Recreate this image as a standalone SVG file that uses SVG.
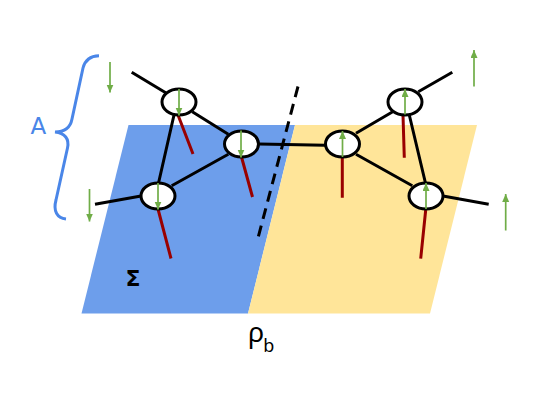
<svg xmlns="http://www.w3.org/2000/svg" width="554" height="402" viewBox="0 0 554 402">
<style>
.e{stroke:#000;stroke-width:3;fill:none;stroke-linecap:butt}
.r{stroke:#990000;stroke-width:3;fill:none}
.g{stroke:#70ad47;stroke-width:1.700;fill:none;marker-end:url(#ah)}
.n{fill:#fff;stroke:#000;stroke-width:3}
text{font-family:"DejaVu Sans",sans-serif}
</style>
<defs>
<marker id="ah" markerUnits="userSpaceOnUse" markerWidth="8" markerHeight="8" refX="8" refY="3.500" orient="auto"><path d="M0 0L8 3.500L0 7Z" fill="#70ad47"/></marker>
</defs>
<g id="plane">
<polygon points="128.500,125 295,125 248,313.500 81.500,313.500" fill="#6d9eeb"/>
<polygon points="295,125 477,125 430,313.500 248,313.500" fill="#ffe599"/>
</g>
<g id="connectors">
<path class="e" d="M131.700 72.300L165.700 92.700M174 115L158.300 184M192.300 111.700L228.300 134.300M228.300 154.300L171.700 185.700M95 204.300L141 196M259 144L325 145.300M356 133.300L392.700 111.700M356 154.300L412.300 185.700M409.300 115L425.700 184M418.300 91.700L452.300 72.300M443 196L488.700 204.300"/>
<path d="M298 86.500L258 238" stroke="#000" stroke-width="3" stroke-dasharray="11 7" fill="none"/>
<path class="r" d="M178 115L193 154M241.500 157L252.500 197M158 209L171 258.500M342.300 157.500V197.700M403 115L404.300 157.700M425.700 210L420.700 258.700"/>
<path class="g" d="M110 62V92.500"/>
<path class="g" d="M89.500 189V221.500"/>
<path class="g" d="M474 86.500V50"/>
<path class="g" d="M505.700 230.500V194"/>
<path d="M99 55.700C90 56 85 60 83 68L72 119C70.500 127 65 132 55 132C65 133 69.500 139 67.500 148L56 200C53 211 57 218 66 219" fill="none" stroke="#4a86e8" stroke-width="3"/>
</g>
<g id="n1"><ellipse class="n" cx="179" cy="102" rx="17" ry="13"/></g>
<g id="n2"><ellipse class="n" cx="241.500" cy="144" rx="17" ry="13"/></g>
<g id="n3"><ellipse class="n" cx="158" cy="196" rx="17" ry="13"/></g>
<g id="n4"><ellipse class="n" cx="342.500" cy="144" rx="17" ry="13"/></g>
<g id="n5"><ellipse class="n" cx="405" cy="102" rx="17" ry="13"/></g>
<g id="n6"><ellipse class="n" cx="426" cy="196" rx="17" ry="13"/></g>
<g id="spins">
<path class="g" d="M179 89V115.500"/>
<path class="g" d="M241 130.500V157.500"/>
<path class="g" d="M158 183V209.500"/>
<path class="g" d="M342.500 157V131"/>
<path class="g" d="M405 114.500V89"/>
<path class="g" d="M426 209V183"/>
</g>
<g id="labels">
<text x="30.500" y="134" font-size="23" fill="#4a86e8">A</text>
<text x="125.500" y="286" font-size="22" font-weight="bold" fill="#000">Σ</text>
<text x="248" y="342" font-size="27" fill="#000" style="font-family:'Noto Sans',sans-serif">ρ<tspan font-size="18" dy="10" dx="-1">b</tspan></text>
</g>
</svg>
